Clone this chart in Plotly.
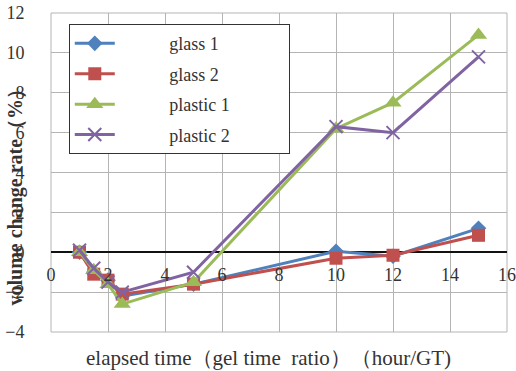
import plotly.graph_objects as go

x_vals = [1, 1.5, 2, 2.5, 5, 10, 12, 15]
glass1 = [0.0, -1.0, -1.4, -2.2, -1.6, 0.05, -0.2, 1.2]
glass2 = [0.0, -1.1, -1.4, -2.1, -1.6, -0.3, -0.15, 0.85]
plastic1 = [0.0, -0.9, -1.6, -2.6, -1.5, 6.2, 7.5, 10.9]
plastic2 = [0.1, -0.8, -1.5, -2.0, -1.0, 6.3, 6.0, 9.8]

names = ["glass 1", "glass 2", "plastic 1", "plastic 2"]
series = [glass1, glass2, plastic1, plastic2]
colors = ["#4F81BD", "#C0504D", "#9BBB59", "#8064A2"]
symbols = ["diamond", "square", "triangle-up", "x-thin"]
sizes = [12, 13, 15, 13]

x_ticks = [0, 2, 4, 6, 8, 10, 12, 14, 16]
y_ticks = [-4, -2, 0, 2, 4, 6, 8, 10, 12]

x_title = "elapsed time（gel time  ratio）（hour/GT)"
y_title = "<b>volume change rate（%）</b>"

serif = "Liberation Serif, Times New Roman, serif"
pad_l = "\u00a0" * 11
pad_r = "\u00a0" * 12

fig = go.Figure()
for name, ys, c, s, sz in zip(names, series, colors, symbols, sizes):
    marker = dict(symbol=s, size=sz, color=c)
    if s == "x-thin":
        marker["line"] = dict(color=c, width=2)
    fig.add_trace(go.Scatter(
        x=x_vals, y=ys, mode="lines+markers", name=pad_l + name + pad_r,
        line=dict(color=c, width=3), marker=marker, legendgroup=name,
    ))

fig.update_layout(
    width=516, height=371,
    margin=dict(l=51, r=9, t=13, b=39),
    paper_bgcolor="white", plot_bgcolor="white",
    font=dict(family=serif, size=18, color="#333"),
    showlegend=True,
    legend=dict(
        x=0.039, y=0.965, xanchor="left", yanchor="top",
        bgcolor="white", bordercolor="#333", borderwidth=1,
        font=dict(family=serif, size=18, color="#333"),
        tracegroupgap=4, itemwidth=40,
    ),
    xaxis=dict(
        range=[0, 16], tickvals=x_ticks, showgrid=True, gridcolor="#b4b4b4", gridwidth=1,
        anchor="free", position=0.25, showline=False, zeroline=False,
        ticks="outside", ticklen=6, tickcolor="rgba(0,0,0,0)", automargin=False,
    ),
    yaxis=dict(
        range=[-4, 12], tickvals=y_ticks, showgrid=True, gridcolor="#b4b4b4", gridwidth=1,
        zeroline=True, zerolinecolor="#111", zerolinewidth=1.5, showline=False,
        ticks="outside", ticklen=22, tickcolor="rgba(0,0,0,0)", automargin=False,
    ),
    shapes=[dict(type="rect", xref="x domain", yref="y domain", x0=0, x1=1, y0=0, y1=1,
                 line=dict(color="#b4b4b4", width=1), layer="below")],
    annotations=[
        dict(text=x_title, xref="paper", yref="paper", x=0.476, y=-0.08,
             xanchor="center", yanchor="middle", showarrow=False,
             font=dict(family=serif, size=21, color="#333")),
        dict(text=y_title, xref="paper", yref="paper", x=-0.077, y=0.44,
             xanchor="center", yanchor="middle", showarrow=False, textangle=-90,
             font=dict(family=serif, size=20, color="#333")),
    ],
)

fig.write_html("out.html", config={"displayModeBar": False},
               post_script="document.body.style.margin='0px';")
